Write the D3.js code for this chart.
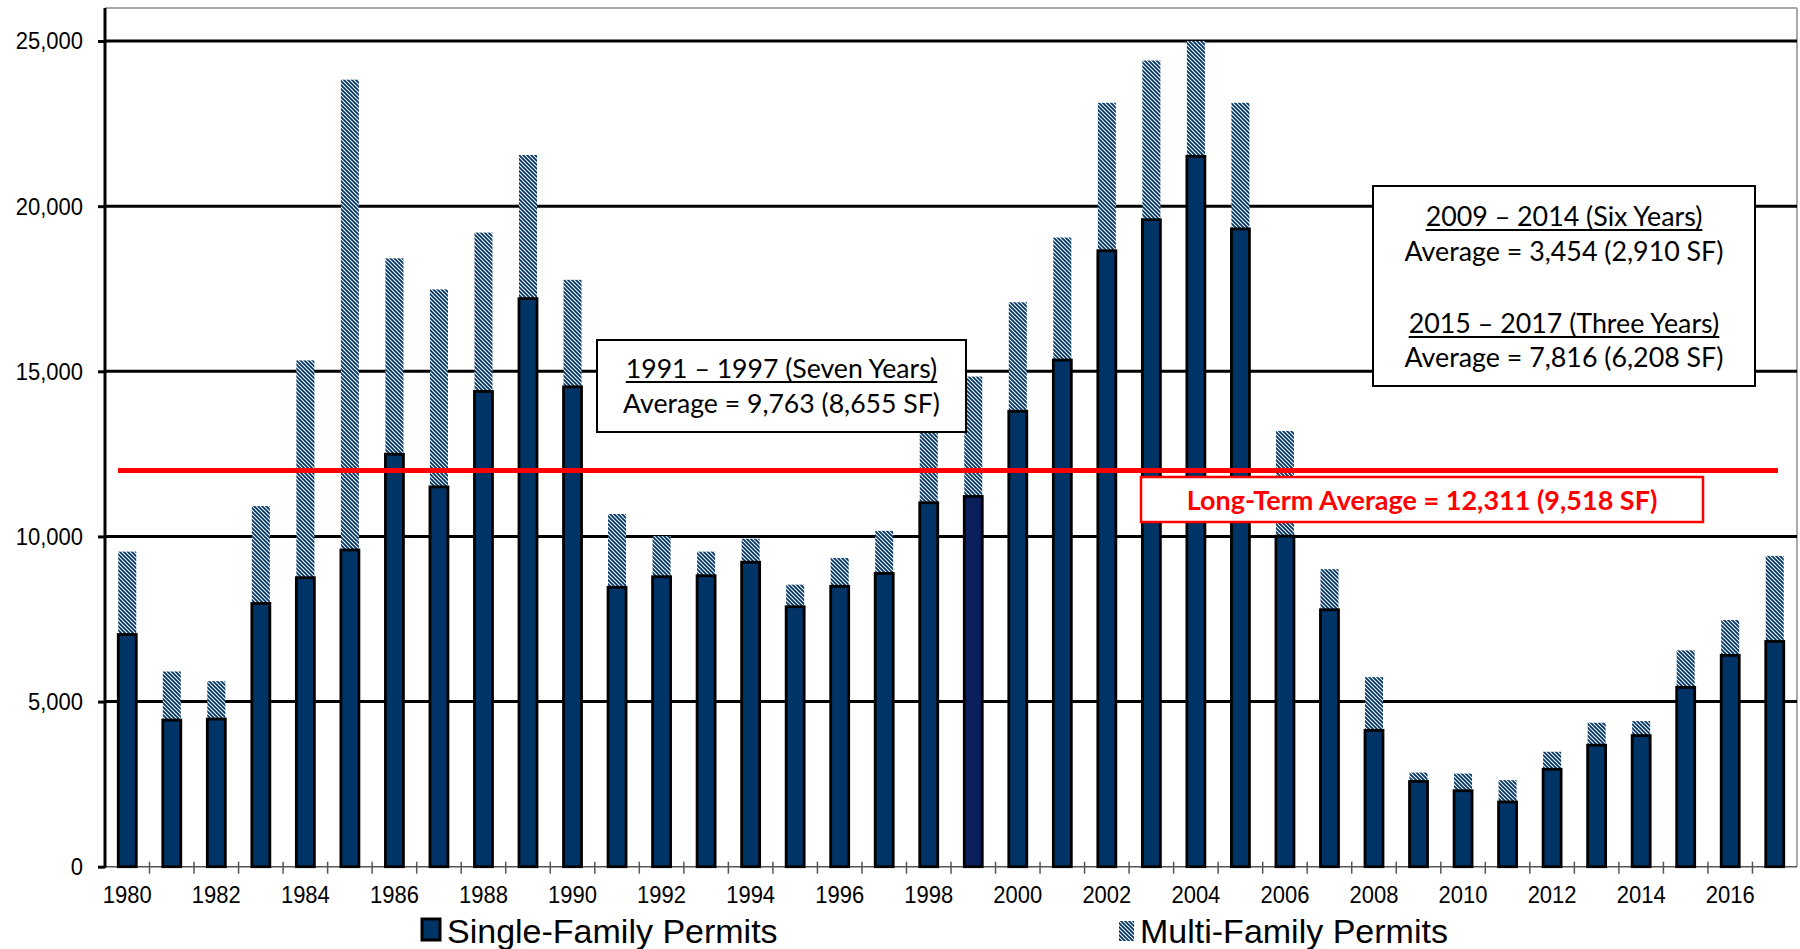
<!DOCTYPE html>
<html>
<head>
<meta charset="utf-8">
<script src="https://cdn.jsdelivr.net/npm/d3@7"></script>
<style>
  html, body { margin: 0; padding: 0; background: #fff; }
  svg { display: block; }
  .tick text { transform-box: fill-box; transform-origin: center; transform: scaleY(1.12); }
</style>
</head>
<body>
<svg id="chart" width="1800" height="949"></svg>
<script>
// ---------------- DATA ----------------
const years = [1980,1981,1982,1983,1984,1985,1986,1987,1988,1989,
               1990,1991,1992,1993,1994,1995,1996,1997,1998,1999,
               2000,2001,2002,2003,2004,2005,2006,2007,2008,2009,
               2010,2011,2012,2013,2014,2015,2016,2017];
const singleFamily = [7030,4440,4470,7970,8750,9590,12490,11500,14390,17200,
                      14530,8460,8780,8810,9220,7870,8490,8880,11020,11210,
                      13790,15340,18650,19590,21510,19310,10010,7780,4130,2580,
                      2300,1960,2950,3680,3970,5430,6400,6820];
const multiFamily  = [2510,1470,1150,2950,6580,14240,5930,5980,4810,4350,
                      3240,2220,1230,730,710,670,860,1290,4380,3630,
                      3300,3710,4480,4820,3490,3820,3180,1230,1610,270,
                      520,660,530,680,440,1120,1070,2590];
const yTicks = [0,5000,10000,15000,20000,25000];
const xLabelYears = [1980,1982,1984,1986,1988,1990,1992,1994,1996,1998,
                     2000,2002,2004,2006,2008,2010,2012,2014,2016];
const highlightYear = 1999;
const referenceLineValue = 12000;
const seriesNames = ["Single-Family Permits", "Multi-Family Permits"];
const box1Lines = ["1991 \u2013 1997 (Seven Years)", "Average = 9,763 (8,655 SF)"];
const box2Lines = ["2009 \u2013 2014 (Six Years)", "Average = 3,454 (2,910 SF)",
                   "2015 \u2013 2017 (Three Years)", "Average = 7,816 (6,208 SF)"];
const longTermLabel = "Long-Term Average = 12,311 (9,518 SF)";

// ---------------- LAYOUT ----------------
const NAVY = "#003366", NAVY_DARK = "#0a1f5c";
const plotL = 105, plotR = 1797, plotT = 8, plotB = 866.7;
const svg = d3.select("#chart");

const x = d3.scaleBand().domain(years).range([plotL, plotR]).paddingInner(0).paddingOuter(0);
const y = d3.scaleLinear().domain([0, 26000]).range([plotB, plotT]);
const barW = 18;

// hatch pattern
const defs = svg.append("defs");
const pat = defs.append("pattern").attr("id", "hatch")
  .attr("patternUnits", "userSpaceOnUse").attr("width", 4).attr("height", 4);
pat.append("rect").attr("width", 4).attr("height", 4).attr("fill", "#fff");
pat.append("path").attr("d", "M-1,-1 L5,5 M3,-1 L5,1 M-1,3 L1,5")
  .attr("stroke", NAVY).attr("stroke-width", 1.8);

// plot frame (top + right thin gray)
svg.append("line").attr("x1", plotL).attr("x2", plotR).attr("y1", plotT).attr("y2", plotT)
  .attr("stroke", "#8c8c8c").attr("stroke-width", 1.5);
svg.append("line").attr("x1", plotR).attr("x2", plotR).attr("y1", plotT).attr("y2", plotB)
  .attr("stroke", "#8c8c8c").attr("stroke-width", 1.5);

// gridlines
svg.append("g").selectAll("line").data(yTicks.filter(d => d > 0)).join("line")
  .attr("x1", plotL).attr("x2", plotR)
  .attr("y1", d => y(d)).attr("y2", d => y(d))
  .attr("stroke", "#000").attr("stroke-width", 3);

// x-axis baseline
svg.append("line").attr("x1", plotL).attr("x2", plotR).attr("y1", plotB).attr("y2", plotB)
  .attr("stroke", "#555").attr("stroke-width", 1.5);

// category boundary ticks
svg.append("g").selectAll("line").data(years.slice(1)).join("line")
  .attr("x1", d => x(d)).attr("x2", d => x(d))
  .attr("y1", plotB - 5).attr("y2", plotB + 7)
  .attr("stroke", "#555").attr("stroke-width", 1.5);

// bars
const data = years.map((yr, i) => ({ yr, sf: singleFamily[i], mf: multiFamily[i] }));
const bars = svg.append("g");
bars.selectAll("rect.mf").data(data).join("rect").attr("class", "mf")
  .attr("x", d => x(d.yr) + x.bandwidth() / 2 - barW / 2)
  .attr("width", barW)
  .attr("y", d => y(d.sf + d.mf))
  .attr("height", d => y(d.sf) - y(d.sf + d.mf))
  .attr("fill", "url(#hatch)");
bars.selectAll("rect.sf").data(data).join("rect").attr("class", "sf")
  .attr("x", d => x(d.yr) + x.bandwidth() / 2 - barW / 2)
  .attr("width", barW)
  .attr("y", d => y(d.sf))
  .attr("height", d => y(0) - y(d.sf))
  .attr("fill", d => d.yr === highlightYear ? NAVY_DARK : NAVY)
  .attr("stroke", "#000").attr("stroke-width", 2.8);

// y axis
const yAxis = d3.axisLeft(y).tickValues(yTicks).tickFormat(d3.format(",")).tickSize(7).tickPadding(15);
const yg = svg.append("g").attr("transform", `translate(${plotL},0)`).call(yAxis);
yg.attr("font-family", "Liberation Sans").attr("font-size", 22);
yg.select(".domain").remove();
yg.selectAll(".tick line").attr("stroke", "#000").attr("stroke-width", 3);
yg.selectAll(".tick text").attr("font-family", "Liberation Sans")
  .attr("font-size", 22).attr("fill", "#000");
svg.append("line").attr("x1", plotL).attr("x2", plotL).attr("y1", plotT).attr("y2", plotB + 1)
  .attr("stroke", "#000").attr("stroke-width", 3);

// x axis labels
const xAxis = d3.axisBottom(x).tickValues(xLabelYears).tickSize(0).tickPadding(20);
const xg = svg.append("g").attr("transform", `translate(0,${plotB})`).call(xAxis);
xg.attr("font-family", "Liberation Sans").attr("font-size", 22);
xg.select(".domain").remove();
xg.selectAll(".tick text").attr("font-family", "Liberation Sans")
  .attr("font-size", 22).attr("fill", "#000");

// reference line
svg.append("line").attr("x1", 118).attr("x2", 1778)
  .attr("y1", y(referenceLineValue)).attr("y2", y(referenceLineValue))
  .attr("stroke", "#ff0000").attr("stroke-width", 5);

// helper: fit text width
function fitText(sel, target, base) {
  const len = sel.node().getComputedTextLength();
  sel.attr("font-size", base * target / len);
}
const ANN_FONT = "Lato, 'Open Sans', sans-serif";

function annBox(x0, y0, x1, y1, lines, baselines, underlineIdx, targetW) {
  const g = svg.append("g");
  g.append("rect").attr("x", x0).attr("y", y0).attr("width", x1 - x0).attr("height", y1 - y0)
    .attr("fill", "#fff").attr("stroke", "#000").attr("stroke-width", 2);
  const cx = (x0 + x1) / 2;
  const texts = lines.map((t, i) => g.append("text").attr("x", cx).attr("y", baselines[i])
    .attr("text-anchor", "middle").attr("font-family", ANN_FONT).attr("font-size", 28)
    .attr("fill", "#000").text(t));
  let widest = texts[0];
  texts.forEach(t => { if (t.node().getComputedTextLength() > widest.node().getComputedTextLength()) widest = t; });
  const scale = targetW / widest.node().getComputedTextLength();
  texts.forEach(t => t.attr("font-size", 28 * scale));
  underlineIdx.forEach(i => {
    const w = texts[i].node().getComputedTextLength();
    g.append("line").attr("x1", cx - w / 2).attr("x2", cx + w / 2)
      .attr("y1", baselines[i] + 4).attr("y2", baselines[i] + 4)
      .attr("stroke", "#000").attr("stroke-width", 2);
  });
}
annBox(597, 340, 966, 432, box1Lines, [378, 413], [0], 317);
annBox(1373, 186, 1755, 386, box2Lines, [226, 261, 333, 367], [0, 2], 319);

// long-term average box
svg.append("rect").attr("x", 1141).attr("y", 477).attr("width", 1703 - 1141).attr("height", 522 - 477)
  .attr("fill", "#fff").attr("stroke", "#ff0000").attr("stroke-width", 2.5);
const lt = svg.append("text").attr("x", (1141 + 1703) / 2).attr("y", 510)
  .attr("text-anchor", "middle").attr("font-family", ANN_FONT).attr("font-weight", "bold")
  .attr("font-size", 26).attr("fill", "#ff0000").text(longTermLabel);
fitText(lt, 471, 26);

// legend
const LEG_FONT = "Liberation Sans";
svg.append("rect").attr("x", 422).attr("y", 919).attr("width", 18).attr("height", 21)
  .attr("fill", NAVY).attr("stroke", "#000").attr("stroke-width", 3);
svg.append("text").attr("x", 447).attr("y", 943).attr("font-family", LEG_FONT)
  .attr("font-size", 34).attr("fill", "#000").text(seriesNames[0]);
svg.append("rect").attr("x", 1119).attr("y", 921).attr("width", 15).attr("height", 20)
  .attr("fill", "url(#hatch)");
svg.append("text").attr("x", 1140).attr("y", 943).attr("font-family", LEG_FONT)
  .attr("font-size", 34).attr("fill", "#000").text(seriesNames[1]);
</script>
</body>
</html>
